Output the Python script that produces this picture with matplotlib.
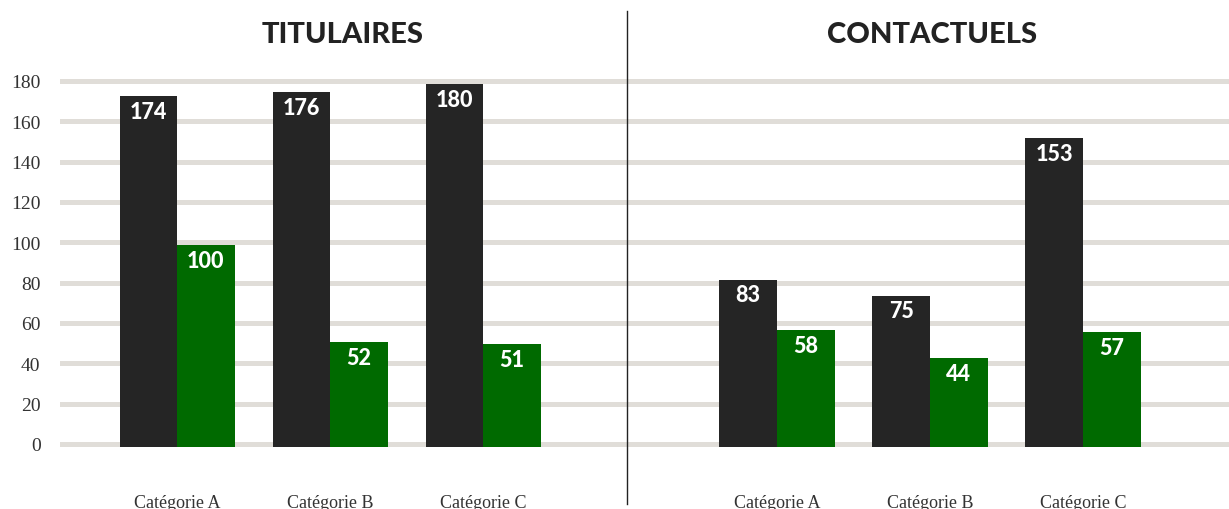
import matplotlib
matplotlib.use("Agg")
import matplotlib.pyplot as plt
from matplotlib.lines import Line2D
import numpy as np

# data
categories = ['Catégorie A', 'Catégorie B', 'Catégorie C']
titulaires_dark = [174, 176, 180]
titulaires_green = [100, 52, 51]
contractuels_dark = [83, 75, 153]
contractuels_green = [58, 44, 57]
panel_titles = ['TITULAIRES', 'CONTACTUELS']
yticks = [0, 20, 40, 60, 80, 100, 120, 140, 160, 180]

dark = '#252525'
green = '#006a00'
grid_col = '#e0ddd8'

W, H = 1229, 510
fig = plt.figure(figsize=(W / 100, H / 100), dpi=100)

ax_bot, ax_top = 455, 60
ylim = (-4.96, 190.9)
bw = 0.376

def panel(x0, x1, xlim, dark_vals, green_vals, show_y):
    ax = fig.add_axes([x0 / W, (H - ax_bot) / H, (x1 - x0) / W, (ax_bot - ax_top) / H])
    x = np.arange(len(categories))
    for y in yticks:
        ax.axhline(y, color=grid_col, lw=3.6, zorder=0)
    b1 = ax.bar(x - bw / 2, dark_vals, bw, bottom=-1.5, color=dark, zorder=2)
    b2 = ax.bar(x + bw / 2, green_vals, bw, bottom=-1.5, color=green, zorder=2)
    for bars, vals in ((b1, dark_vals), (b2, green_vals)):
        for b, v in zip(bars, vals):
            ax.text(b.get_x() + b.get_width() / 2, v - 1.5 - 7.5, str(v),
                    ha='center', va='center', color='white', fontsize=15.5,
                    fontfamily='Lato', fontweight=900, zorder=3)
    ax.set_xlim(*xlim)
    ax.set_ylim(*ylim)
    ax.set_xticks(x)
    ax.set_xticklabels(categories, fontfamily='Liberation Serif', fontsize=13, color='#333333')
    ax.tick_params(axis='x', length=0, pad=29)
    if show_y:
        ax.set_yticks(yticks)
        ax.set_yticklabels([str(t) for t in yticks], fontfamily='Liberation Serif',
                           fontsize=14, color='#333333')
        ax.tick_params(axis='y', length=0, pad=14)
    else:
        ax.set_yticks([])
    for s in ax.spines.values():
        s.set_visible(False)
    ax.set_facecolor('none')
    return ax

axl = panel(60, 627, (-0.765, 2.94), titulaires_dark, titulaires_green, True)
axr = panel(627, 1229, (-0.98, 2.954), contractuels_dark, contractuels_green, False)

for cx, t in zip([343, 932], panel_titles):
    fig.text(cx / W, 1 - 35 / H, t, ha='center', va='center',
             fontsize=21, fontfamily='Lato', fontweight=900, color='#222222')

fig.add_artist(Line2D([627 / W, 627 / W], [1 - 12 / H, 1 - 505 / H],
                      transform=fig.transFigure, color='#222222', lw=1))

fig.savefig('out.png', dpi=100)
